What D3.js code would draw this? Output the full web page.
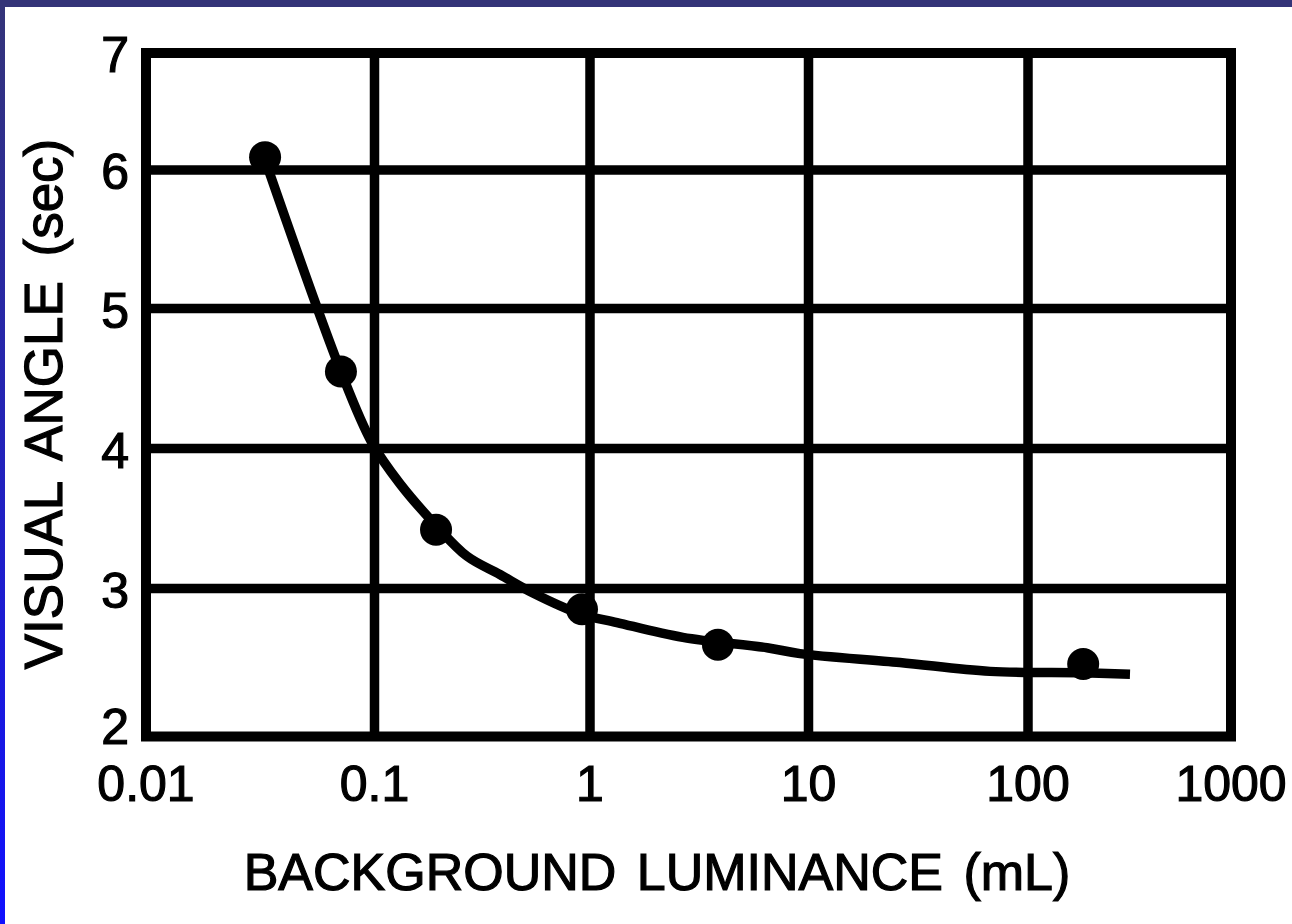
<!DOCTYPE html>
<html>
<head>
<meta charset="utf-8">
<script src="https://cdn.jsdelivr.net/npm/d3@7"></script>
<style>
  body { margin: 0; background: #fff; }
  svg { display: block; }
  text { font-family: "Liberation Sans", Arial, sans-serif; fill: #000; stroke: #000; stroke-width: 1.2px; }
</style>
</head>
<body>
<div id="chart"></div>
<script>
// values
let xTicks = [0.01, 0.1, 1, 10, 100, 1000]
let xTickLabels = ["0.01", "0.1", "1", "10", "100", "1000"]
let yTicks = [2, 3, 4, 5, 6, 7]

// measured points (dots)
let dotX = [0.0332, 0.0713, 0.193, 0.918, 3.85, 187]
let dotY = [6.11, 4.55, 3.42, 2.86, 2.62, 2.49]

// hand drawn fitted curve
let lineX = [0.033, 0.0713, 0.0975, 0.131, 0.193, 0.269, 0.382, 0.544, 0.898, 1.33, 2.66, 6.46, 9.14, 26.1, 67.1, 187, 318]
let lineY = [6.1, 4.55, 4.04, 3.75, 3.45, 3.23, 3.10, 2.97, 2.83, 2.77, 2.67, 2.60, 2.56, 2.50, 2.44, 2.43, 2.42]

let W = 1292, H = 924

let svg = d3.select("#chart").append("svg")
  .attr("width", W)
  .attr("height", H)

// blue slide frame
let defs = svg.append("defs")
let grad = defs.append("linearGradient")
  .attr("id", "sideGrad")
  .attr("x1", 0).attr("y1", 0).attr("x2", 0).attr("y2", 1)
grad.append("stop").attr("offset", "0%").attr("stop-color", "#343478")
grad.append("stop").attr("offset", "100%").attr("stop-color", "#1010ff")

svg.append("rect").attr("x", 0).attr("y", 0).attr("width", W).attr("height", H).attr("fill", "#fff")
svg.append("rect").attr("x", 0).attr("y", 0).attr("width", 5).attr("height", H).attr("fill", "url(#sideGrad)")
svg.append("rect").attr("x", 0).attr("y", 0).attr("width", W).attr("height", 7).attr("fill", "#343478")

// the paper grid is hand drawn, so the decades are not quite even
let x = d3.scaleLog()
  .domain(xTicks)
  .range([146, 374.5, 590, 808.5, 1028, 1231])

let y = d3.scaleLinear()
  .domain(yTicks)
  .range([736.5, 588.5, 448.5, 308.5, 170, 53])

let g = svg.append("g")

// grid lines
g.selectAll(".vgrid")
  .data(xTicks.slice(1, -1))
  .enter().append("line")
  .attr("class", "vgrid")
  .attr("x1", d => x(d)).attr("x2", d => x(d))
  .attr("y1", y(7)).attr("y2", y(2))
  .attr("stroke", "#000")
  .attr("stroke-width", 9.5)

g.selectAll(".hgrid")
  .data(yTicks.slice(1, -1))
  .enter().append("line")
  .attr("class", "hgrid")
  .attr("x1", x(0.01)).attr("x2", x(1000))
  .attr("y1", d => y(d)).attr("y2", d => y(d))
  .attr("stroke", "#000")
  .attr("stroke-width", 9.5)

// frame
g.append("rect")
  .attr("x", x(0.01))
  .attr("y", y(7))
  .attr("width", x(1000) - x(0.01))
  .attr("height", y(2) - y(7))
  .attr("fill", "none")
  .attr("stroke", "#000")
  .attr("stroke-width", 10)

// tick labels
g.selectAll(".xlab")
  .data(xTicks)
  .enter().append("text")
  .attr("class", "xlab")
  .attr("x", d => x(d))
  .attr("y", 801)
  .attr("text-anchor", "middle")
  .attr("font-size", "50px")
  .text((d, i) => xTickLabels[i])

// bottom label sits a bit higher so it clears the 0.01
g.selectAll(".ylab")
  .data(yTicks)
  .enter().append("text")
  .attr("class", "ylab")
  .attr("x", 129)
  .attr("y", d => d === yTicks[0] ? y(d) + 7 : y(d) + 19)
  .attr("text-anchor", "end")
  .attr("font-size", "50px")
  .text(d => d)

// curve
let linePath = d3.line()
  .x((d, i) => x(lineX[i]))
  .y((d, i) => y(lineY[i]))
  .curve(d3.curveCatmullRom)

g.append("path")
  .attr("d", linePath(lineX))
  .attr("fill", "none")
  .attr("stroke", "#000")
  .attr("stroke-width", 9.5)

g.selectAll(".dot")
  .data(dotX)
  .enter().append("circle")
  .attr("class", "dot")
  .attr("cx", d => x(d))
  .attr("cy", (d, i) => y(dotY[i]))
  .attr("r", 16)
  .attr("fill", "#000")

// axis titles
svg.append("text")
  .attr("x", 657)
  .attr("y", 890)
  .attr("text-anchor", "middle")
  .attr("font-size", "52px")
  .attr("word-spacing", "6px")
  .text("BACKGROUND LUMINANCE (mL)")

svg.append("text")
  .attr("transform", "translate(62, 404) rotate(-90)")
  .attr("text-anchor", "middle")
  .attr("font-size", "53px")
  .attr("word-spacing", "10px")
  .text("VISUAL ANGLE (sec)")
</script>
</body>
</html>
